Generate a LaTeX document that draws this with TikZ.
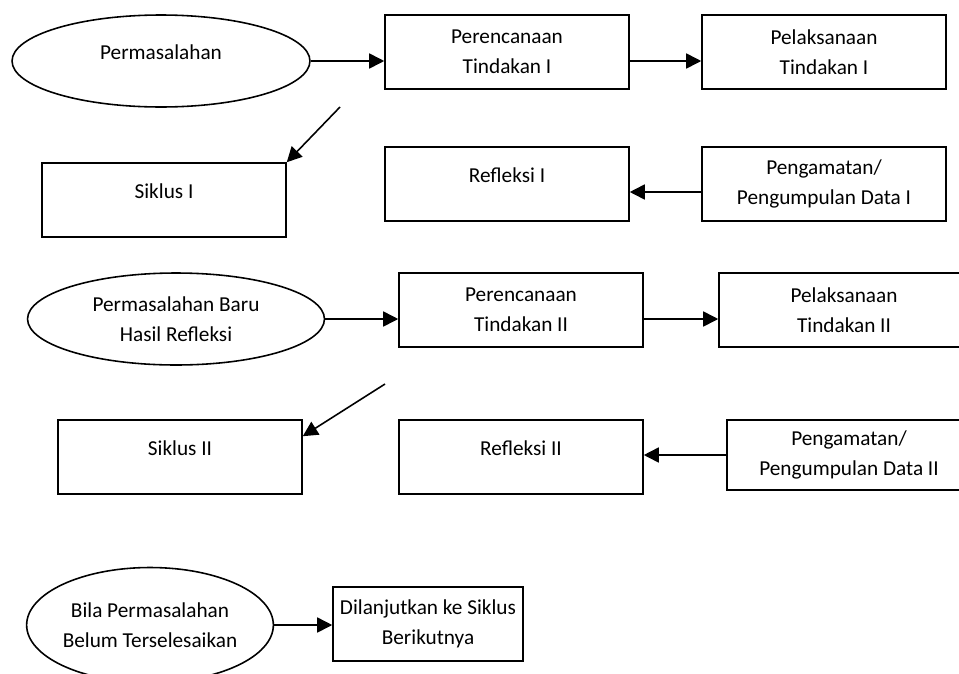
\documentclass[tikz,border=0pt]{standalone}
\usepackage{fontspec}
\setmainfont{Carlito}
\usepackage{tikz}
\usetikzlibrary{shapes.geometric, arrows.meta, calc}

\begin{document}
\begin{tikzpicture}[x=0.02cm, y=-0.02cm, line width=0.9pt,
  every node/.style={inner sep=2pt, font=\fontsize{12.1pt}{17pt}\selectfont},
  box/.style={draw, rectangle, minimum width=4.88cm, minimum height=1.48cm, align=center},
  oval/.style={draw, ellipse, align=center, inner sep=0pt},
  upper/.style={text depth=1em},
  arrow/.style={-{Triangle[length=0.3cm, width=0.3cm]}}]
\useasboundingbox (0,0) rectangle (959,673);

% siklus I
\node[oval, upper, minimum width=5.96cm, minimum height=1.84cm] (prob1) at (161,61) {Permasalahan};
\node[box] (plan1) at (507,52) {Perencanaan\\Tindakan I};
\node[box] (act1) at (824,52) {Pelaksanaan\\Tindakan I};
\node[box, upper] (cyc1) at (164,200) {Siklus I};
\node[box, upper] (refl1) at (507,184) {Refleksi I};
\node[box] (obs1) at (824,184) {Pengamatan/\\Pengumpulan Data I};
\coordinate (from1) at (340,107);

% siklus II
\node[oval, minimum width=5.94cm, minimum height=1.84cm] (prob2) at (176,319) {Permasalahan Baru\\Hasil Refleksi};
\node[box, minimum width=5cm] (act2) at (844,310) {Pelaksanaan\\Tindakan II};
\node[box] (plan2) at (521,310) {Perencanaan\\Tindakan II};
\node[box, upper] (cyc2) at (180,457) {Siklus II};
\node[box, upper] (refl2) at (521,457) {Refleksi II};
\node[box, minimum height=1.4cm] (obs2) at (849,455) {Pengamatan/\\Pengumpulan Data II};
\coordinate (from2) at (385,384);

% lanjut
\node[oval, minimum width=4.88cm, minimum height=2.3cm] (prob3) at (150,625) {Bila Permasalahan\\Belum Terselesaikan};
\node[box, minimum width=3.8cm] (next) at (428,624) {Dilanjutkan ke Siklus\\Berikutnya};

% panah
\draw[arrow] (prob1.east) -- (prob1.east -| plan1.west);
\draw[arrow] (plan1.east |- prob1.east) -- (prob1.east -| act1.west);
\draw[arrow] (from1) -- (cyc1.north east);
\draw[arrow] ([yshift=-0.16cm]obs1.west) -- ([yshift=-0.16cm]obs1.west -| refl1.east);
\draw[arrow] (prob2.east) -- (prob2.east -| plan2.west);
\draw[arrow] (plan2.east |- prob2.east) -- (prob2.east -| act2.west);
\draw[arrow] (from2) -- ($(cyc2.north east)+(0,17)$);
\draw[arrow] (obs2.west) -- (obs2.west -| refl2.east);
\draw[arrow] (prob3.east) -- (prob3.east -| next.west);
\end{tikzpicture}
\end{document}
